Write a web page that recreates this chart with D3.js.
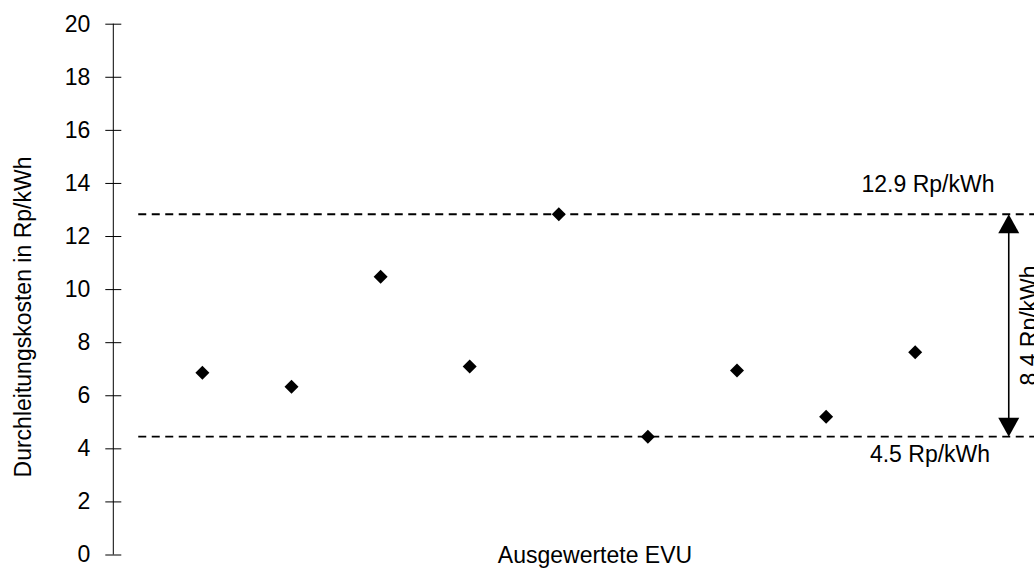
<!DOCTYPE html>
<html><head><meta charset="utf-8">
<script src="https://cdn.jsdelivr.net/npm/d3@7"></script>
<style>body{margin:0;background:#fff}svg{display:block;font-family:"Liberation Sans",Arial,sans-serif}</style>
</head><body><svg id="c" width="1034" height="568"></svg>
<script>
const categories = ["EVU 1","EVU 2","EVU 3","EVU 4","EVU 5","EVU 6","EVU 7","EVU 8","EVU 9"];
const values = [6.85, 6.32, 10.47, 7.08, 12.82, 4.44, 6.93, 5.19, 7.62];
const yTicks = [0,2,4,6,8,10,12,14,16,18,20];
const maxLabel = "12.9 Rp/kWh";
const minLabel = "4.5 Rp/kWh";
const spanLabel = "8.4 Rp/kWh";
const yTitle = "Durchleitungskosten in Rp/kWh";
const xTitle = "Ausgewertete EVU";

const svg = d3.select("#c");
const x = d3.scaleLinear().domain([0, 10]).range([113.3, 1004.3]);
const y = d3.scaleLinear().domain([0, 20]).range([554.5, 23.7]);
const fs = 23;

// y axis
const ax = svg.append("g").attr("transform", `translate(${x(0)},0)`)
  .call(d3.axisLeft(y).tickValues(yTicks).tickSize(8).tickPadding(15).tickFormat(d3.format("d")));
ax.select(".domain").remove();
ax.selectAll(".tick line").attr("x2", 8).attr("x1", -8).attr("stroke", "#000");
ax.selectAll(".tick text").attr("font-size", fs).attr("fill", "#000").attr("font-family", "Liberation Sans, Arial, sans-serif");
svg.append("line").attr("x1", x(0)).attr("x2", x(0)).attr("y1", y(20)).attr("y2", y(0)).attr("stroke", "#000").attr("stroke-width", 1);

// titles
svg.append("text").attr("transform", `translate(31,317) rotate(-90)`)
  .attr("text-anchor", "middle").attr("font-size", fs).text(yTitle);
svg.append("text").attr("x", 595).attr("y", 563).attr("text-anchor", "middle").attr("font-size", fs).text(xTitle);

// reference lines at min and max
const vmax = d3.max(values), vmin = d3.min(values);
[vmax, vmin].forEach(v => {
  svg.append("line").attr("x1", x(0.28)).attr("x2", 1034).attr("y1", y(v)).attr("y2", y(v))
    .attr("stroke", "#000").attr("stroke-width", 1.8).attr("stroke-dasharray", "8,5.5");
});

// arrow
const ax2 = x(10.05);
const hl = 19, hw = 10.5;
svg.append("line").attr("x1", ax2).attr("x2", ax2).attr("y1", y(vmax) + hl - 2).attr("y2", y(vmin) - hl + 2)
  .attr("stroke", "#000").attr("stroke-width", 1.6);
svg.append("path").attr("d", `M${ax2},${y(vmax)} L${ax2-hw},${y(vmax)+hl} L${ax2+hw},${y(vmax)+hl} Z`).attr("fill", "#000");
svg.append("path").attr("d", `M${ax2},${y(vmin)} L${ax2-hw},${y(vmin)-hl} L${ax2+hw},${y(vmin)-hl} Z`).attr("fill", "#000");

svg.append("text").attr("x", 928).attr("y", 192).attr("text-anchor", "middle").attr("font-size", fs).text(maxLabel);
svg.append("text").attr("x", 930).attr("y", 462).attr("text-anchor", "middle").attr("font-size", fs).text(minLabel);
svg.append("text").attr("transform", `translate(1036.5,${(y(vmax)+y(vmin))/2}) rotate(-90)`)
  .attr("text-anchor", "middle").attr("font-size", fs).text(spanLabel);

// points
const r = 7;
svg.append("g").selectAll("path").data(values).join("path")
  .attr("d", (d, i) => { const cx = x(i + 1), cy = y(d); return `M${cx},${cy-r} L${cx+r},${cy} L${cx},${cy+r} L${cx-r},${cy} Z`; })
  .attr("fill", "#000");
</script></body></html>
